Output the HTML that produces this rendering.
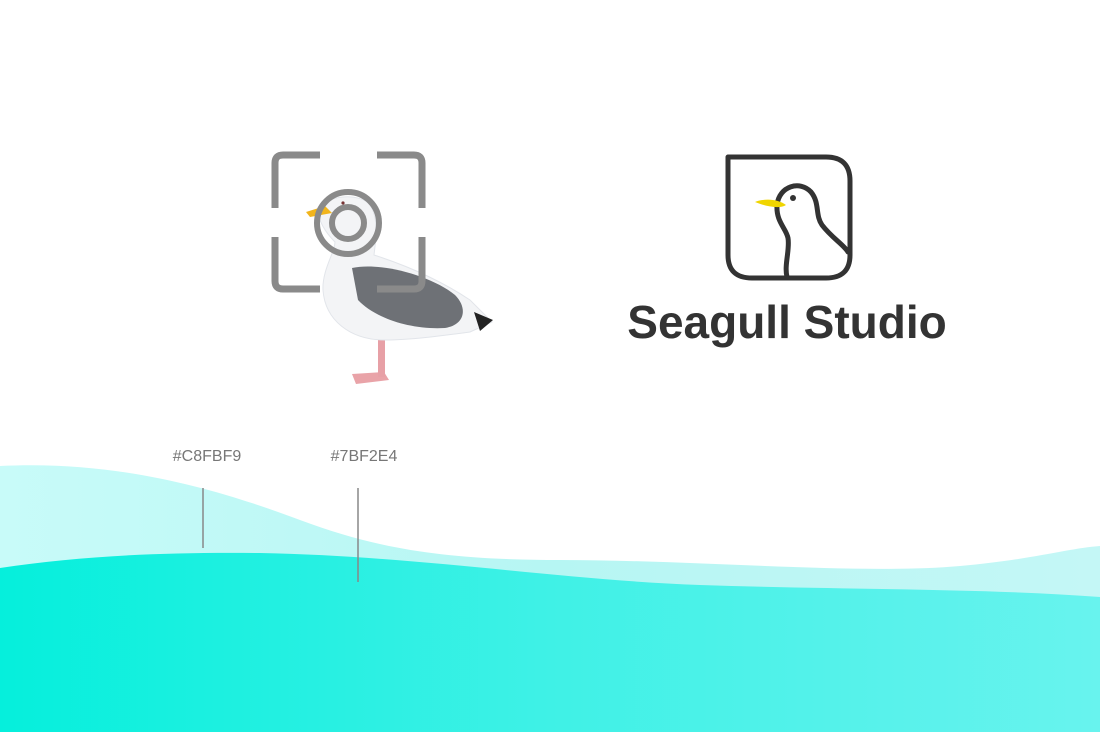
<!DOCTYPE html>
<html><head><meta charset="utf-8"><style>
html,body{margin:0;padding:0;background:#fff;width:1100px;height:732px;overflow:hidden}
svg{display:block}
</style></head><body>
<svg width="1100" height="732" viewBox="0 0 1100 732" xmlns="http://www.w3.org/2000/svg">
<defs>
<linearGradient id="lg" x1="0" y1="0" x2="1" y2="0">
<stop offset="0" stop-color="#c8fbf9"/><stop offset="0.5" stop-color="#b6f6f3"/><stop offset="1" stop-color="#c4f7f6"/>
</linearGradient>
<linearGradient id="tg" x1="0" y1="0" x2="1" y2="0">
<stop offset="0" stop-color="#05efdc"/><stop offset="0.5" stop-color="#3ff1e6"/><stop offset="1" stop-color="#68f3ee"/>
</linearGradient>
</defs>
<path d="M0,466 C120,460 220,490 300,520 C380,550 450,560 560,560 C700,560 860,575 960,566 C1030,560 1070,548 1100,546 L1100,732 L0,732 Z" fill="url(#lg)"/>
<path d="M0,568 C80,556 160,552 260,553 C420,556 560,580 700,585 C850,590 980,588 1100,597 L1100,732 L0,732 Z" fill="url(#tg)"/>
<line x1="203" y1="488" x2="203" y2="548" stroke="#888" stroke-width="1.5"/>
<line x1="358" y1="488" x2="358" y2="582" stroke="#888" stroke-width="1.5"/>
<text x="207" y="461" text-anchor="middle" font-family="Liberation Sans, sans-serif" font-size="16" fill="#777">#C8FBF9</text>
<text x="364" y="461" text-anchor="middle" font-family="Liberation Sans, sans-serif" font-size="16" fill="#777">#7BF2E4</text>
<g>
<path d="M352,374 L384,372 L389,380 L356,384 Z" fill="#e9a3a8"/>
<rect x="378" y="335" width="7" height="42" fill="#e7a0a6"/>
<path d="M318,210 C325,195 360,192 370,205 C380,220 375,245 374,255 C405,265 440,280 470,300 L492,322 L470,332 C440,336 410,340 385,340 C350,340 325,320 323,290 C322,270 335,252 335,242 C325,232 318,220 318,210 Z" fill="#f3f4f6" stroke="#e2e5ea" stroke-width="1"/>
<path d="M352,268 C380,262 430,275 455,295 C468,308 465,325 445,328 C410,330 375,318 358,300 Z" fill="#6e7176"/>
<path d="M474,312 L493,320 L480,331 Z" fill="#222"/>
<path d="M306,212 L325,206 L332,213 L310,217 Z" fill="#f2b51c"/>
<circle cx="343" cy="203" r="1.6" fill="#733"/>
</g>
<g fill="none" stroke="#8a8a8a" stroke-width="7">
<path d="M320,155 L283,155 Q275,155 275,163 L275,208"/>
<path d="M377,155 L414,155 Q422,155 422,163 L422,208"/>
<path d="M275,237 L275,281 Q275,289 283,289 L320,289"/>
<path d="M422,237 L422,281 Q422,289 414,289 L377,289"/>
<circle cx="348" cy="223" r="31" stroke-width="6"/>
<circle cx="348" cy="223" r="16" stroke-width="6"/>
</g>
<g fill="none" stroke="#333" stroke-width="5" stroke-linejoin="round" stroke-linecap="round">
<path d="M728,157 L826,157 Q850,157 850,181 L850,255 Q850,278 826,278 L752,278 Q728,278 728,255 Z"/>
<path d="M787,277 C784,265 790,250 788,238 C786,228 776,222 777,205 C779,186 800,180 811,192 C820,203 815,215 822,225 C832,238 844,245 848,252"/>
</g>
<path d="M755,202 C765,198 778,199 786,205 C780,209 767,207 755,202 Z" fill="#f0d500"/>
<circle cx="793" cy="198" r="3" fill="#333"/>
<text x="787" y="338" text-anchor="middle" font-family="Liberation Sans, DejaVu Sans, sans-serif" font-size="46" font-weight="bold" fill="#333">Seagull Studio</text>
</svg>
</body></html>
